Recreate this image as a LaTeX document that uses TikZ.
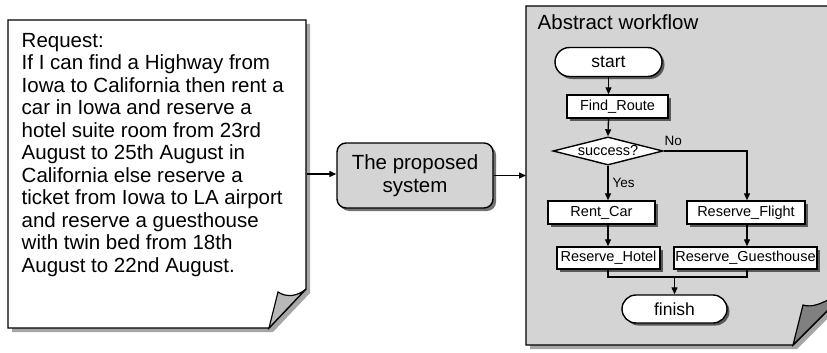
\documentclass[tikz,border=0pt]{standalone}
\usepackage{fontspec}
\setmainfont{Liberation Sans}
\usetikzlibrary{arrows.meta,shapes.geometric,shapes.misc,shadows,calc}
\begin{document}
\begin{tikzpicture}[x=1pt,y=-1pt,
  line width=1.4pt,
  dotfill/.style={fill=black!17},
  curlfill/.style={fill=black!50},
  boxshadow/.style={drop shadow={shadow xshift=2.5pt,shadow yshift=-2.5pt,fill=black!65,opacity=1}},
  flowbox/.style={draw,fill=white,rectangle,minimum height=23pt,inner sep=0pt,
    font=\fontsize{14.5}{16}\selectfont,boxshadow},
  terminal/.style={draw,fill=white,rounded rectangle,minimum height=29pt,inner sep=0pt,
    font=\fontsize{17.5}{20}\selectfont,boxshadow},
  decision/.style={draw,fill=white,diamond,aspect=3.4,minimum width=110pt,inner sep=0pt,
    font=\fontsize{14.5}{16}\selectfont},
  flow/.style={line width=1.3pt,-{Triangle[length=7pt,width=6pt]}},
  plain/.style={line width=1.3pt},
  lbl/.style={font=\fontsize{13.5}{15}\selectfont,inner sep=0pt}
]
\useasboundingbox (0,0) rectangle (827,353);

% ---- request note ----
\fill[black!35] (12,24) -- (310,24) -- (310,293) -- (273,332) -- (12,332) -- cycle;
\draw[fill=white] (8,20) -- (306,20) -- (306,289) -- (269,328) -- (8,328) -- cycle;
\draw[fill=black!28,line width=1.2pt] (269,328) -- (278,292) .. controls (287,298) and (298,296) .. (306,289) -- cycle;
\node[draw=none,minimum width=298pt,minimum height=308pt,inner sep=0pt,anchor=north west] (req) at (8,20) {};
\node[anchor=north west,align=left,inner sep=0pt,font=\fontsize{20.5}{22.5}\selectfont] (reqtext) at (21,32.5)
  {Request:\\If I can find a Highway from\\Iowa to California then rent a\\car in Iowa and reserve a\\hotel suite room from 23rd\\August to 25th August in\\California else reserve a\\ticket from Iowa to LA airport\\and reserve a guesthouse\\with twin bed from 18th\\August to 22nd August.};

% ---- proposed system ----
\node[draw,dotfill,rounded corners=9pt,minimum width=156pt,minimum height=65pt,inner sep=0pt,
  align=center,font=\fontsize{20.5}{23}\selectfont,
  drop shadow={shadow xshift=3pt,shadow yshift=-3pt,fill=black!55,opacity=1}] (sys) at (415,175.5)
  {The proposed\\system};

% ---- workflow panel ----
\fill[black!35] (530,10) -- (834,10) -- (834,312) -- (797,349) -- (530,349) -- cycle;
\draw[dotfill] (526,6) -- (830,6) -- (830,308) -- (793,345) -- (526,345) -- cycle;
\draw[curlfill,line width=1.2pt] (793,345) -- (803,305) .. controls (812,308) and (822,303) .. (830,299) -- (830,308) -- cycle;
\node[draw=none,minimum width=304pt,minimum height=339pt,inner sep=0pt,anchor=north west] (wf) at (526,6) {};
\node[anchor=base west,inner sep=0pt,font=\fontsize{20.5}{23}\selectfont] (title) at (537,30) {Abstract workflow};

% ---- flow chart ----
\node[terminal,minimum width=107pt] (start) at (608.5,62) {start};
\node[flowbox,minimum width=101pt] (route) at (617.5,106.5) {Find\_Route};
\node[decision] (succ) at (608,151) {success?};
\node[flowbox,minimum width=107pt] (car) at (601.5,212.5) {Rent\_Car};
\node[flowbox,minimum width=118pt] (flight) at (746,212.5) {Reserve\_Flight};
\node[flowbox,minimum width=103pt,minimum height=22pt] (hotel) at (608.5,258) {Reserve\_Hotel};
\node[flowbox,minimum width=143pt,minimum height=22pt] (guest) at (745.5,258) {Reserve\_Guesthouse};
\node[terminal,minimum width=105pt,minimum height=28pt] (finish) at (674.5,309) {finish};
\coordinate (merge) at (674.5,277);

\draw[flow] (start.south) -- (start.south |- route.north);
\draw[flow] (start.south |- route.south) -- (succ.north);
\draw[flow] (succ.south) -- (succ.south |- car.north);
\draw[flow] (succ.east) -| (flight.north -| 747,0);
\draw[flow] (succ.south |- car.south) -- (succ.south |- hotel.north);
\draw[flow] (flight.south -| 747,0) -- (guest.north -| 747,0);
\draw[plain] (succ.south |- hotel.south) |- (merge) -| (guest.south -| 747,0);
\draw[flow] (merge) -- (finish.north);
\node[lbl,anchor=south west] (nolbl) at (664,146) {No};
\node[lbl,anchor=west] (yeslbl) at (612,183) {Yes};

% ---- connectors between the three parts ----
\draw[flow] (req.east |- 0,174) -- (sys.west |- 0,174);
\draw[flow] (sys.east) -- (sys.east -| wf.west);
\end{tikzpicture}
\end{document}
